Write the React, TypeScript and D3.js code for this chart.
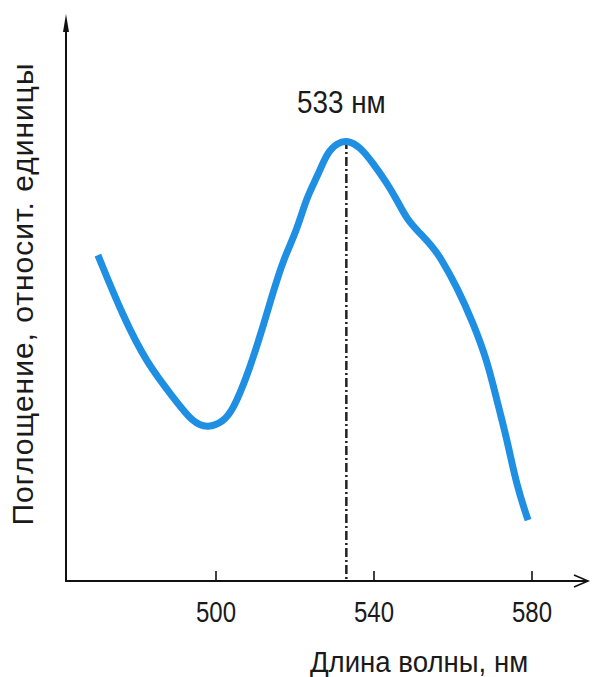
import React from "react";
import * as d3 from "d3";

const wavelength = [470.1, 476.5, 482.5, 489.1, 494.2, 498.0, 501.8, 504.3, 507.8, 511.1, 514.4, 517.0, 520.5, 523.0, 525.6, 528.1, 530.6, 533.4, 536.5, 539.7, 543.3, 545.8, 548.4, 551.6, 554.9, 556.7, 561.0, 565.1, 568.6, 571.1, 573.7, 576.2, 579.0];
const absorbance = [0.739, 0.599, 0.494, 0.417, 0.358, 0.347, 0.361, 0.388, 0.463, 0.553, 0.653, 0.728, 0.796, 0.871, 0.916, 0.971, 0.993, 1.0, 0.984, 0.948, 0.902, 0.864, 0.819, 0.789, 0.757, 0.735, 0.667, 0.585, 0.501, 0.41, 0.32, 0.213, 0.138];
const xTicks = [500, 540, 580];
const peakWavelength = 533;
const peakLabel = "533 нм";
const xTitle = "Длина волны, нм";
const yTitle = "Поглощение, относит. единицы";

const W = 592;
const H = 677;
const FONT = "'Liberation Sans', Arial, sans-serif";

function SText({ x, y, s, size, children, rotate = 0, spacing = 0 }: any) {
  return (
    <text
      transform={`translate(${x},${y}) rotate(${rotate}) scale(${s},1)`}
      textAnchor="middle"
      fontFamily={FONT}
      fontSize={size}
      letterSpacing={spacing}
      fill="#1a1a1a"
    >
      {children}
    </text>
  );
}

export default function App() {
  const x = d3.scaleLinear().domain([500, 580]).range([216, 532]);
  const y = d3.scaleLinear().domain([0, 1]).range([581, 140]);
  const x0 = 66;
  const y0 = 581;
  const xEnd = 588;
  const yTop = 14;

  const pts: [number, number][] = wavelength.map((w, i) => [w, absorbance[i]]);
  const line = d3
    .line<[number, number]>()
    .x((d) => x(d[0]))
    .y((d) => y(d[1]))
    .curve(d3.curveBasis);

  const axisColor = "#111";
  const peakX = x(peakWavelength);

  return (
    <svg width={W} height={H} style={{ position: "absolute", left: 0, top: 0, background: "#fff" }}>
      {/* y axis */}
      <line x1={x0} y1={y0} x2={x0} y2={yTop + 6} stroke={axisColor} strokeWidth={2} />
      <path d={`M${x0},${yTop} L${x0 - 3},${yTop + 18} L${x0 + 3},${yTop + 18} Z`} fill={axisColor} />
      {/* x axis */}
      <line x1={x0 - 1} y1={y0} x2={xEnd} y2={y0} stroke={axisColor} strokeWidth={2} />
      <path d={`M${xEnd - 14},${y0 - 6} L${xEnd},${y0} L${xEnd - 14},${y0 + 6}`} fill="none" stroke={axisColor} strokeWidth={1.6} />
      {/* ticks */}
      {xTicks.map((t) => (
        <g key={t}>
          <line x1={x(t)} x2={x(t)} y1={y0} y2={y0 - 10} stroke={axisColor} strokeWidth={1.6} />
          <SText x={x(t)} y={622} s={0.8} size={30}>
            {t}
          </SText>
        </g>
      ))}
      {/* peak marker */}
      <line
        x1={peakX}
        x2={peakX}
        y1={y(1)}
        y2={y0}
        stroke="#222"
        strokeWidth={2.5}
        strokeDasharray="9,3,2,3"
      />
      <SText x={peakX - 5} y={113} s={0.87} size={32}>
        {peakLabel}
      </SText>
      {/* curve */}
      <path d={line(pts) || ""} fill="none" stroke="#1E8FE3" strokeWidth={7} strokeLinejoin="round" />
      {/* titles */}
      <SText x={419} y={672} s={0.92} size={30}>
        {xTitle}
      </SText>
      <SText x={33} y={294} s={1} size={30} rotate={-90} spacing={1}>
        {yTitle}
      </SText>
    </svg>
  );
}
